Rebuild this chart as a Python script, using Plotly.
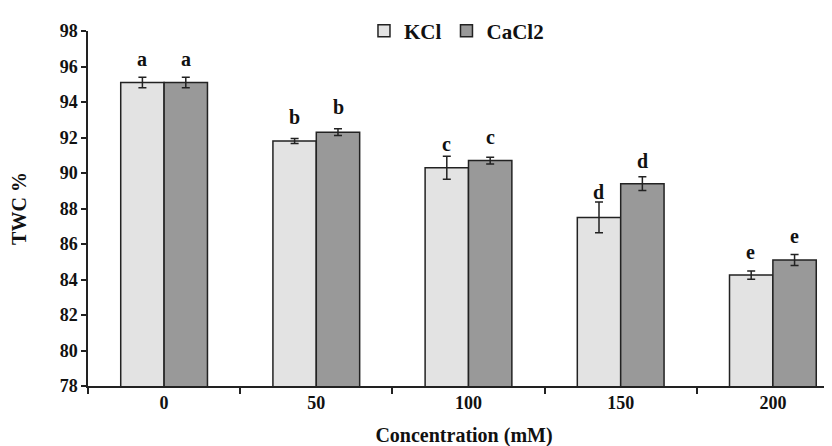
import plotly.graph_objects as go

categories = ["0", "50", "100", "150", "200"]
kcl = [95.1, 91.8, 90.3, 87.5, 84.25]
kcl_err = [0.3, 0.14, 0.65, 0.86, 0.23]
cacl2 = [95.1, 92.3, 90.7, 89.4, 85.1]
cacl2_err = [0.3, 0.19, 0.19, 0.39, 0.31]
kcl_letters = ["a", "b", "c", "d", "e"]
cacl2_letters = ["a", "b", "c", "d", "e"]
kcl_letter_y = [95.93, 92.66, 91.14, 88.44, 85.06]
cacl2_letter_y = [95.93, 93.23, 91.54, 90.19, 85.96]

FONT = "Times New Roman, Liberation Serif, serif"
DARK = "#222222"

fig = go.Figure()
fig.add_trace(go.Bar(
    name="<b>KCl</b>", x=categories, y=kcl,
    marker=dict(color="#e3e3e3", line=dict(color=DARK, width=1.5)),
    error_y=dict(type="data", array=kcl_err, color=DARK, thickness=1.5, width=4),
))
fig.add_trace(go.Bar(
    name="<b>CaCl2</b>", x=categories, y=cacl2,
    marker=dict(color="#999999", line=dict(color=DARK, width=1.5)),
    error_y=dict(type="data", array=cacl2_err, color=DARK, thickness=1.5, width=4),
))

annotations = []
for i, c in enumerate(categories):
    for letters, ly, off in ((kcl_letters, kcl_letter_y, -0.145), (cacl2_letters, cacl2_letter_y, 0.145)):
        annotations.append(dict(
            x=i + off, y=ly[i], xref="x", yref="y", text="<b>" + letters[i] + "</b>", showarrow=False,
            yanchor="bottom", yshift=-4,
            font=dict(family=FONT, size=20, color="#111111"),
        ))

fig.update_layout(
    width=832, height=446,
    margin=dict(l=80, r=0, t=23, b=68),
    paper_bgcolor="white", plot_bgcolor="white",
    barmode="group", bargap=0.43, bargroupgap=0,
    font=dict(family=FONT, color="#111111", size=18),
    showlegend=True,
    legend=dict(orientation="h", x=0.49, xanchor="center", y=1.0, yanchor="middle",
                font=dict(family=FONT, size=21, color="#111111"),
                bgcolor="rgba(0,0,0,0)", itemclick=False, traceorder="normal"),
    annotations=annotations,
    xaxis=dict(
        type="category", range=[-0.5, 4.441],
        tickvals=categories, ticktext=["<b>" + c + "</b>" for c in categories],
        showline=True, linecolor=DARK, linewidth=1.5,
        ticks="outside", tickson="boundaries", ticklen=6, tickwidth=1.5, tickcolor=DARK,
        tickfont=dict(family=FONT, size=18, color="#111111"),
        title=dict(text="<b>Concentration (mM)</b>", standoff=16,
                   font=dict(family=FONT, size=20, color="#111111")),
        showgrid=False, zeroline=False,
    ),
    yaxis=dict(
        range=[78, 98], dtick=2, tick0=78, tickprefix="<b>", ticksuffix="</b>",
        showline=True, linecolor=DARK, linewidth=1.5,
        ticks="outside", ticklen=5, tickwidth=1.5, tickcolor=DARK,
        tickfont=dict(family=FONT, size=18, color="#111111"),
        title=dict(text="<b>TWC %</b>", standoff=30,
                   font=dict(family=FONT, size=20, color="#111111")),
        showgrid=False, zeroline=False,
    ),
)

fig.write_html("out.html")
